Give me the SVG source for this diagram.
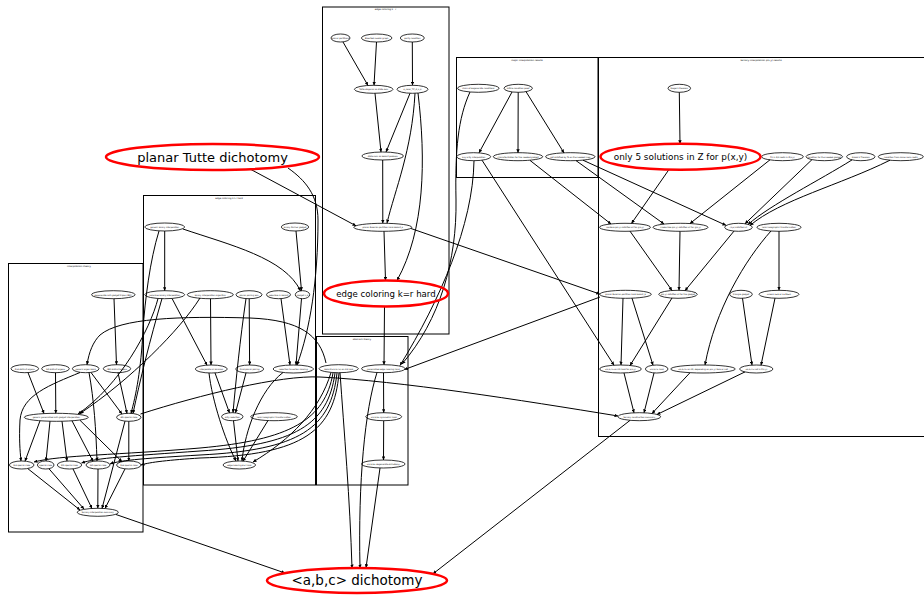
<svg xmlns="http://www.w3.org/2000/svg" width="924" height="595" viewBox="0 0 924 595">
<defs>
<style>
.cl{fill:none;stroke:#000;stroke-width:1}
.n ellipse{fill:none;stroke:#000;stroke-width:0.8}
.n text{font-family:"DejaVu Sans",sans-serif;font-size:2.1px;text-anchor:middle;fill:#000}
.r ellipse{fill:none;stroke:#f00;stroke-width:2.5}
.r text{font-family:"DejaVu Sans",sans-serif;text-anchor:middle;fill:#000}
.t{font-family:"DejaVu Sans",sans-serif;font-size:2.4px;text-anchor:middle;fill:#000}
#edges path{fill:none;stroke:#000;stroke-width:1;marker-end:url(#a)}
</style>
<marker id="a" viewBox="0 0 10 10" refX="10" refY="5" markerWidth="3.5" markerHeight="3.5" orient="auto" markerUnits="userSpaceOnUse"><path d="M0,0L10,5L0,10z" fill="#000"/></marker>
</defs>
<rect width="924" height="595" fill="#fff"/>
<g id="clusters">
<g id="c1"><rect class="cl" x="322.5" y="7" width="126.5" height="327"/><text class="t" x="385.5" y="10">edge coloring k=r</text></g>
<g id="c2"><rect class="cl" x="143.5" y="195.5" width="172" height="289.5"/><text class="t" x="229" y="198.8">edge coloring k&gt;r hard</text></g>
<g id="c3"><rect class="cl" x="8.5" y="263.5" width="134.5" height="268.5"/><text class="t" x="79" y="266.8">interpolation theory</text></g>
<g id="c4"><rect class="cl" x="316.5" y="336.5" width="91.5" height="148.5"/><text class="t" x="362" y="339.8">abstract theory</text></g>
<g id="c5"><rect class="cl" x="456.5" y="57.5" width="141.5" height="120"/><text class="t" x="527" y="60.8">major interpolation results</text></g>
<g id="c6"><rect class="cl" x="598.5" y="57.5" width="330" height="379"/><text class="t" x="761" y="60.8">ternary interpolation p(x,y) results</text></g>
</g>
<g id="edges">
<path d="M343,42L368,85.5"/>
<path d="M376.5,42L374,85.3"/>
<path d="M412.3,42L412.5,85.3"/>
<path d="M375,93.3L381,152"/>
<path d="M410,93.3L386,152"/>
<path d="M382.7,160L382.8,223.3"/>
<path d="M415,93.3C412,150 395,190 387,223"/>
<path d="M418,93C426,160 425,230 397,280.5"/>
<path d="M384,231.3L385.5,280.5"/>
<path d="M250,169L356,225.8"/>
<path d="M411,228.5L599.7,294"/>
<path d="M384.5,306.5L384,364.7"/>
<path d="M383.5,372.7L383.7,412.7"/>
<path d="M383.7,420.7L383.5,460"/>
<path d="M380,468L366,567.8"/>
<path d="M377,372.5C365,410 358,480 360,568"/>
<path d="M340,372.7C344,430 350,500 352,568"/>
<path d="M600,297L404.5,369.5"/>
<path d="M474,160.7C473,225 440,300 400,365.5"/>
<path d="M470,92C458,118 455,150 456,200C457,260 440,320 402,364"/>
<path d="M164.7,231L164.7,290.7"/>
<path d="M183,229C230,245 285,258 300.5,290.9"/>
<path d="M296,231L301.5,290.7"/>
<path d="M249.2,298.7L249.6,365"/>
<path d="M246,298.6C240,340 236,380 233,412.7"/>
<path d="M281,298.7L290,365"/>
<path d="M301.5,298.6L296,365"/>
<path d="M172,298.4L207,365.2"/>
<path d="M210.5,298.7L211,365"/>
<path d="M215,372.9L229.5,412.9"/>
<path d="M246,372.9L235.5,412.8"/>
<path d="M209,373C212,400 225,440 236,461"/>
<path d="M283,372.5C260,390 245,430 242,461"/>
<path d="M233.5,420.7L238,461"/>
<path d="M268,420.5L243,461.2"/>
<path d="M288,168C305,180 318,195 318,220C318,280 310,330 297,365"/>
<path d="M326,363C320,335 300,320 250,318C180,316 120,318 100,335C93,342 89,352 87,364.7"/>
<path d="M331,372.5C320,410 290,440 253,462"/>
<path d="M333,373C325,420 290,440 200,448C120,455 60,455 34,462"/>
<path d="M335,373C328,425 295,445 200,451C130,456 95,458 81.5,463"/>
<path d="M337,373C331,428 300,450 200,455C150,458 120,460 110,464"/>
<path d="M339,373C334,430 305,455 200,458C170,460 150,462 141,465"/>
<path d="M140.5,414C200,395 280,375 320,377C400,381 520,400 618,416"/>
<path d="M114,298.7L116.5,364.7"/>
<path d="M28,372.6L44,413.5"/>
<path d="M55.5,372.7L55.8,413.3"/>
<path d="M80,372.5C50,385 22,395 20,420C19,440 20,450 21,461"/>
<path d="M89,372.5C94,400 96,430 97,461"/>
<path d="M91,372.5L122,414"/>
<path d="M118,372.7L127,413.4"/>
<path d="M200,298C180,330 130,380 80,413.5"/>
<path d="M158,298.5C150,330 120,385 78,414"/>
<path d="M162,298.5C150,340 140,380 133,413.5"/>
<path d="M159,231C150,260 145,300 143,330C141,370 136,395 131,413.4"/>
<path d="M40,420.8L25,461.2"/>
<path d="M50,421.2L46,461"/>
<path d="M62,421.2L67,461"/>
<path d="M72,420.8L93,461.3"/>
<path d="M80,420.3L122,461.7"/>
<path d="M128.8,421.3L128.8,461"/>
<path d="M125,421.1L102,508.5"/>
<path d="M28,468.8L80,510"/>
<path d="M49,468.8L84,509"/>
<path d="M73,468.9L92,508.6"/>
<path d="M98,469L97.8,508.3"/>
<path d="M125,468.9L105,508.5"/>
<path d="M116,514.5L285,573"/>
<path d="M512,92L479,152.8"/>
<path d="M518.2,92.3L518,152.7"/>
<path d="M526,91.6L564,152.9"/>
<path d="M530,160.4L611,224"/>
<path d="M576,160.6L664,224"/>
<path d="M583,160.2L726,225.3"/>
<path d="M482,160.2L614,365.2"/>
<path d="M679.3,92.3L680,143.7"/>
<path d="M669,169.5L631.5,223.4"/>
<path d="M770,159.8L690,223.5"/>
<path d="M812,159.6L745,223.8"/>
<path d="M852,159.9C820,180 770,205 748,224.5"/>
<path d="M890,160.2C840,185 780,200 750,225.5"/>
<path d="M630,231.2L672,290.5"/>
<path d="M680,231.3L679,290.3"/>
<path d="M734,231.1L685,290.7"/>
<path d="M779,231.3L779,290.3"/>
<path d="M771,231C745,260 715,310 705,365"/>
<path d="M623,298.3L621,365"/>
<path d="M632,298.2L653,365.2"/>
<path d="M672,298L630,365.5"/>
<path d="M742.5,298.3L752,365.1"/>
<path d="M775,298.2L761,365.2"/>
<path d="M624,373L634,412.8"/>
<path d="M654,373L644,412.8"/>
<path d="M690,372.7L652,413.5"/>
<path d="M745,371.9L657,414.5"/>
<path d="M630,420.4L433,573.8"/>
</g>
<g id="nodes">
<g id="A" class="n"><ellipse cx="340.5" cy="38" rx="9.5" ry="4"/><text x="340.5" y="38.8">planar partitions</text></g>
<g id="B" class="n"><ellipse cx="376.7" cy="38" rx="15.3" ry="4"/><text x="376.7" y="38.8">Bisected medial graph</text></g>
<g id="C" class="n"><ellipse cx="412.3" cy="38" rx="12" ry="4"/><text x="412.3" y="38.8">parity condition</text></g>
<g id="D" class="n"><ellipse cx="373.7" cy="89.3" rx="19.3" ry="4"/><text x="373.7" y="90.1">Tutte diagonal as state sum</text></g>
<g id="E" class="n"><ellipse cx="412.5" cy="89.3" rx="15.5" ry="4"/><text x="412.5" y="90.1">κ_color_TP_G_x_k</text></g>
<g id="F" class="n"><ellipse cx="382.7" cy="156" rx="20.7" ry="4"/><text x="382.7" y="156.8">state sum as Holant problem</text></g>
<g id="G" class="n"><ellipse cx="382.8" cy="227.3" rx="29" ry="4"/><text x="382.8" y="228.1">planar Eulerian partition hard Holant_κ</text></g>
<g id="H" class="n"><ellipse cx="164.7" cy="227" rx="20" ry="4"/><text x="164.7" y="227.8">generic binary interpolation</text></g>
<g id="I" class="n"><ellipse cx="295" cy="227" rx="13.7" ry="4"/><text x="295" y="227.8">binary Fischer gadget</text></g>
<g id="J" class="n"><ellipse cx="164.7" cy="294.7" rx="20" ry="4"/><text x="164.7" y="295.5">recursive binary interpolation</text></g>
<g id="K" class="n"><ellipse cx="210.3" cy="294.7" rx="23" ry="4"/><text x="210.3" y="295.5">binary interpolation algorithm</text></g>
<g id="L" class="n"><ellipse cx="249" cy="294.7" rx="13" ry="4"/><text x="249" y="295.5">planar pairing lem</text></g>
<g id="M" class="n"><ellipse cx="278.5" cy="294.7" rx="12" ry="4"/><text x="278.5" y="295.5">reducible in Holant</text></g>
<g id="N" class="n"><ellipse cx="302.5" cy="294.7" rx="7.2" ry="4"/><text x="302.5" y="295.5">gadget n_k</text></g>
<g id="O" class="n"><ellipse cx="211.3" cy="369" rx="16" ry="4"/><text x="211.3" y="369.8">interpolate all binaries</text></g>
<g id="P" class="n"><ellipse cx="249.7" cy="369" rx="14" ry="4"/><text x="249.7" y="369.8">third planar pairing</text></g>
<g id="Q" class="n"><ellipse cx="293.3" cy="369" rx="20.3" ry="4"/><text x="293.3" y="369.8">reduction to vertex coloring</text></g>
<g id="R" class="n"><ellipse cx="232.3" cy="416.7" rx="10.7" ry="4"/><text x="232.3" y="417.5">arity reduction</text></g>
<g id="S" class="n"><ellipse cx="274" cy="416.7" rx="23.3" ry="4"/><text x="274" y="417.5">local holographic transformation</text></g>
<g id="T" class="n"><ellipse cx="239.3" cy="465" rx="16.3" ry="4"/><text x="239.3" y="465.8">edge coloring k&gt;r hard</text></g>
<g id="V" class="n"><ellipse cx="113.3" cy="294.7" rx="21.7" ry="4"/><text x="113.3" y="295.5">degenerate anti-gadget triple (ABC)</text></g>
<g id="W1" class="n"><ellipse cx="24.8" cy="368.7" rx="13.8" ry="4"/><text x="24.8" y="369.5">2nd distinct eigenv</text></g>
<g id="W2" class="n"><ellipse cx="55.5" cy="368.7" rx="13.8" ry="4"/><text x="55.5" y="369.5">1st distinct eigenv</text></g>
<g id="W3" class="n"><ellipse cx="85.7" cy="368.7" rx="13.3" ry="4"/><text x="85.7" y="369.5">generic eigen basis</text></g>
<g id="W4" class="n"><ellipse cx="117" cy="368.7" rx="13.7" ry="4"/><text x="117" y="369.5">ABC distinct eigenv</text></g>
<g id="X" class="n"><ellipse cx="56.3" cy="417.3" rx="32" ry="4"/><text x="56.3" y="418.1">generic generalized anti-gadget interpolation</text></g>
<g id="Y" class="n"><ellipse cx="128.8" cy="417.3" rx="12.2" ry="4"/><text x="128.8" y="418.1">4th special case</text></g>
<g id="Z1" class="n"><ellipse cx="21.7" cy="465" rx="12.3" ry="4"/><text x="21.7" y="465.8">3rd special case</text></g>
<g id="Z2" class="n"><ellipse cx="45.7" cy="465" rx="8.3" ry="4"/><text x="45.7" y="465.8">special case</text></g>
<g id="Z3" class="n"><ellipse cx="69.5" cy="465" rx="12.2" ry="4"/><text x="69.5" y="465.8">5th special case</text></g>
<g id="Z4" class="n"><ellipse cx="98" cy="465" rx="12" ry="4"/><text x="98" y="465.8">1st special case</text></g>
<g id="Z5" class="n"><ellipse cx="128.8" cy="465" rx="12.2" ry="4"/><text x="128.8" y="465.8">2nd special case</text></g>
<g id="AA" class="n"><ellipse cx="97.8" cy="512.3" rx="20.5" ry="4"/><text x="97.8" y="513.1">ternary interpolation summary</text></g>
<g id="U" class="n"><ellipse cx="338.7" cy="368.7" rx="19.7" ry="4"/><text x="338.7" y="369.5">Holant(&lt;a,b,c&gt;) on K4 hard</text></g>
<g id="U2" class="n"><ellipse cx="383.3" cy="368.7" rx="21.7" ry="4"/><text x="383.3" y="369.5">generalized edge coloring hard</text></g>
<g id="U3" class="n"><ellipse cx="383.7" cy="416.7" rx="18" ry="4"/><text x="383.7" y="417.5">&lt;a,b,b&gt; symmetric hard</text></g>
<g id="U4" class="n"><ellipse cx="383.3" cy="464" rx="21.7" ry="4"/><text x="383.3" y="464.8">&lt;a,b,b&gt; degenerate dichotomy</text></g>
<g id="BA" class="n"><ellipse cx="478.3" cy="88.3" rx="20.7" ry="4"/><text x="478.3" y="89.1">chain of degenerate conditions</text></g>
<g id="BB" class="n"><ellipse cx="518.2" cy="88.3" rx="14.2" ry="4"/><text x="518.2" y="89.1">lattice condition proof</text></g>
<g id="BC" class="n"><ellipse cx="473.7" cy="156.7" rx="17" ry="4"/><text x="473.7" y="157.5">any arity interpolation</text></g>
<g id="BD" class="n"><ellipse cx="518" cy="156.7" rx="24.7" ry="4"/><text x="518" y="157.5">characterization for the needed gadget</text></g>
<g id="BE" class="n"><ellipse cx="570.3" cy="156.7" rx="24.7" ry="4"/><text x="570.3" y="157.5">not satisfied by Ta on the needed lines</text></g>
<g id="CA" class="n"><ellipse cx="679.3" cy="88.3" rx="11.3" ry="4"/><text x="679.3" y="89.1">Siegel's theorem</text></g>
<g id="CB" class="n"><ellipse cx="625" cy="227.3" rx="25.5" ry="4"/><text x="625" y="228.1">nonzero p(x,y) satisfies LC for g(x,y)</text></g>
<g id="CC" class="n"><ellipse cx="680.5" cy="227.3" rx="27.5" ry="4"/><text x="680.5" y="228.1">irreducible p(x,y) satisfies LC for g(x,y)</text></g>
<g id="CD" class="n"><ellipse cx="738.5" cy="227.3" rx="13.8" ry="4"/><text x="738.5" y="228.1">(λ,μ) satisfies LC</text></g>
<g id="CE" class="n"><ellipse cx="779" cy="227.3" rx="22" ry="4"/><text x="779" y="228.1">local holographic transformation</text></g>
<g id="DA" class="n"><ellipse cx="782.5" cy="156.7" rx="20.8" ry="4"/><text x="782.5" y="157.5">fill in 2/0 roots in Z[x,y]</text></g>
<g id="DB" class="n"><ellipse cx="824.3" cy="156.7" rx="18.3" ry="4"/><text x="824.3" y="157.5">condition for the needed gadget</text></g>
<g id="DC" class="n"><ellipse cx="860.8" cy="156.7" rx="14.2" ry="4"/><text x="860.8" y="157.5">Galois's Theorem</text></g>
<g id="DD" class="n"><ellipse cx="900.8" cy="156.7" rx="22.5" ry="4"/><text x="900.8" y="157.5">condition from same norm roots</text></g>
<g id="CF" class="n"><ellipse cx="625.5" cy="294.3" rx="25.8" ry="4"/><text x="625.5" y="295.1">planar Eulerian partition hard Holant_b</text></g>
<g id="CG" class="n"><ellipse cx="678" cy="294.3" rx="19.3" ry="4"/><text x="678" y="295.1">p(x,y) satisfies LC for the gadget</text></g>
<g id="CI" class="n"><ellipse cx="741" cy="294.3" rx="11.3" ry="4"/><text x="741" y="295.1">triangle gadget</text></g>
<g id="CJ" class="n"><ellipse cx="779" cy="294.3" rx="20" ry="4"/><text x="779" y="295.1">unless a=b or a+2b=0</text></g>
<g id="CH" class="n"><ellipse cx="620.5" cy="369" rx="20.8" ry="4"/><text x="620.5" y="369.8">&lt;a,b,c&gt; on K3 hard for p(x,y)</text></g>
<g id="CH2" class="n"><ellipse cx="656.7" cy="369" rx="11.3" ry="4"/><text x="656.7" y="369.8">&lt;a,b,c&gt; hard</text></g>
<g id="CK" class="n"><ellipse cx="703" cy="369" rx="32.3" ry="4"/><text x="703" y="369.8">&lt;a,b,c&gt; on K3, depending on p(x,y) zero or not</text></g>
<g id="CL" class="n"><ellipse cx="756.3" cy="369" rx="16.7" ry="4"/><text x="756.3" y="369.8">&lt;a,b,c&gt; not in P(x,y)</text></g>
<g id="CM" class="n"><ellipse cx="639.3" cy="416.7" rx="21.3" ry="4"/><text x="639.3" y="417.5">ternary construction summary</text></g>
<g id="PT" class="r"><ellipse cx="212.5" cy="157" rx="106.5" ry="13"/><text x="212.5" y="161.6" font-size="13">planar Tutte dichotomy</text></g>
<g id="ECH" class="r"><ellipse cx="386" cy="293.5" rx="62" ry="13"/><text x="386" y="296.6" font-size="8.6">edge coloring k=r hard</text></g>
<g id="P5" class="r"><ellipse cx="680.5" cy="156.7" rx="80" ry="13"/><text x="680.5" y="160" font-size="8.9">only 5 solutions in Z for p(x,y)</text></g>
<g id="ABC" class="r"><ellipse cx="357" cy="580.5" rx="90" ry="12.5"/><text x="357" y="585.3" font-size="13.5">&lt;a,b,c&gt; dichotomy</text></g>
</g>
</svg>
